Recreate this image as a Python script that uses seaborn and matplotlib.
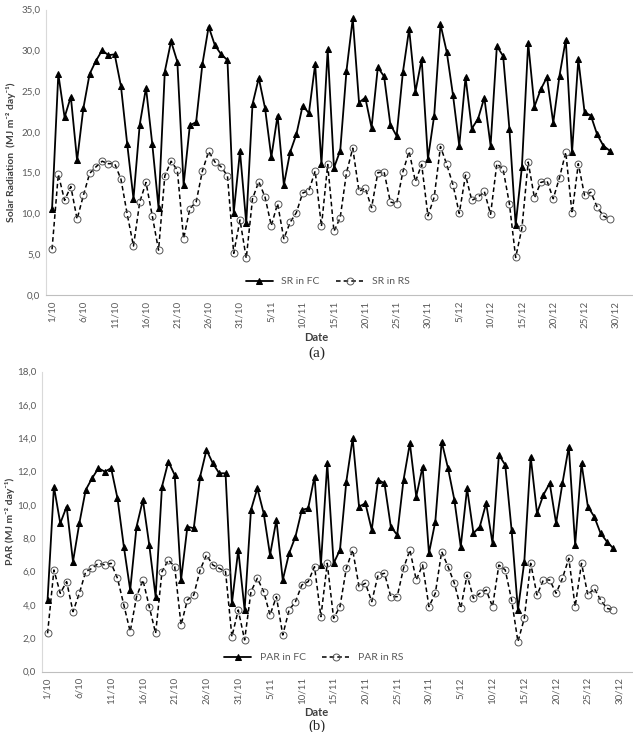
import numpy as np
import pandas as pd
import seaborn as sns
import matplotlib.pyplot as plt
from matplotlib.ticker import FuncFormatter

# daily values, 1/10 to 30/12
sr_fc = [10.5, 27.1, 21.8, 24.3, 16.5, 22.9, 27.1, 28.7, 30.0, 29.4,
         29.5, 25.6, 18.5, 11.8, 20.9, 25.4, 18.5, 10.7, 27.4, 31.1,
         28.6, 13.5, 20.8, 21.2, 28.3, 32.9, 30.6, 29.5, 28.8, 10.1,
         17.6, 8.8, 23.4, 26.6, 22.9, 16.9, 22.0, 13.5, 17.5, 19.7,
         23.2, 22.3, 28.3, 16.0, 30.1, 15.6, 17.7, 27.5, 33.9, 23.6,
         24.2, 20.5, 27.9, 26.8, 20.9, 19.5, 27.3, 32.6, 24.9, 28.9,
         16.7, 22.0, 33.2, 29.8, 24.5, 18.3, 26.7, 20.4, 21.6, 24.2,
         18.3, 30.5, 29.3, 20.4, 8.6, 15.7, 30.9, 23.1, 25.2, 26.7,
         21.1, 26.9, 31.3, 17.5, 28.9, 22.4, 22.0, 19.7, 18.3, 17.7]
sr_rs = [5.6, 14.8, 11.6, 13.3, 9.3, 12.2, 14.9, 15.7, 16.4, 16.1,
         16.1, 14.2, 9.9, 6.0, 11.4, 13.8, 9.7, 5.5, 14.6, 16.4,
         15.3, 6.9, 10.6, 11.4, 15.2, 17.6, 16.3, 15.7, 14.6, 5.1,
         9.2, 4.5, 11.8, 13.9, 12.0, 8.5, 11.2, 6.9, 8.9, 10.1,
         12.5, 12.8, 15.2, 8.4, 16.0, 7.8, 9.5, 15.0, 18.0, 12.7,
         13.1, 10.7, 15.0, 15.1, 11.4, 11.2, 15.1, 17.6, 13.9, 16.0,
         9.7, 12.0, 18.2, 16.0, 13.5, 10.0, 14.7, 11.6, 12.0, 12.7,
         9.9, 16.1, 15.4, 11.2, 4.6, 8.2, 16.3, 11.9, 13.8, 14.0,
         11.8, 14.4, 17.5, 10.0, 16.1, 12.2, 12.6, 10.8, 9.7, 9.3]
par_fc = [4.3, 11.1, 8.9, 9.9, 6.6, 8.9, 10.9, 11.6, 12.2, 12.0,
          12.2, 10.4, 7.5, 4.9, 8.7, 10.3, 7.6, 4.5, 11.1, 12.6,
          11.8, 5.5, 8.7, 8.6, 11.7, 13.3, 12.5, 11.9, 11.9, 4.1,
          7.3, 3.7, 9.7, 11.0, 9.5, 7.0, 9.1, 5.5, 7.1, 8.1,
          9.7, 9.8, 11.7, 6.4, 12.5, 6.5, 7.3, 11.4, 14.0, 9.9,
          10.1, 8.5, 11.5, 11.3, 8.7, 8.2, 11.5, 13.7, 10.5, 12.3,
          7.1, 9.0, 13.8, 12.2, 10.3, 7.5, 11.0, 8.3, 8.7, 10.1,
          7.7, 13.0, 12.4, 8.5, 3.7, 6.6, 12.9, 9.5, 10.6, 11.3,
          8.9, 11.3, 13.5, 7.6, 12.5, 9.9, 9.3, 8.3, 7.8, 7.4]
par_rs = [2.3, 6.1, 4.7, 5.4, 3.6, 4.7, 6.0, 6.2, 6.5, 6.4,
          6.5, 5.6, 4.0, 2.4, 4.5, 5.5, 3.9, 2.3, 6.0, 6.7,
          6.3, 2.8, 4.3, 4.6, 6.1, 7.0, 6.4, 6.2, 6.0, 2.1,
          3.7, 1.9, 4.8, 5.6, 4.8, 3.4, 4.5, 2.2, 3.7, 4.2,
          5.2, 5.4, 6.3, 3.3, 6.5, 3.2, 3.9, 6.2, 7.3, 5.1,
          5.3, 4.2, 5.8, 5.9, 4.5, 4.5, 6.2, 7.3, 5.5, 6.4,
          3.9, 4.7, 7.2, 6.3, 5.3, 3.8, 5.8, 4.4, 4.7, 4.9,
          3.9, 6.4, 6.1, 4.3, 1.8, 3.2, 6.5, 4.6, 5.5, 5.5,
          4.7, 5.6, 6.8, 3.9, 6.5, 4.6, 5.0, 4.3, 3.8, 3.7]
date_labels = ['1/10', '6/10', '11/10', '16/10', '21/10', '26/10', '31/10',
               '5/11', '10/11', '15/11', '20/11', '25/11', '30/11',
               '5/12', '10/12', '15/12', '20/12', '25/12', '30/12']

sns.set_style('white')
plt.rcParams['font.family'] = ['Lato', 'DejaVu Sans']

GREY = '#595959'


# draws one panel: solid triangles for FC, dashed open circles for RS
def draw_panel(ax, fc, rs, names, ymax, ystep, ylabel, xlim, leg_x, label_x):
    df = pd.DataFrame({'day': np.arange(len(fc)), 'fc': fc, 'rs': rs})
    sns.lineplot(data=df, x='day', y='fc', ax=ax, color='black', lw=1.3,
                 marker='^', markersize=5, markeredgecolor='black', label=names[0])
    sns.lineplot(data=df, x='day', y='rs', ax=ax, color='black', lw=1.1,
                 linestyle=(0, (3, 2)), marker='o', markersize=5,
                 markerfacecolor='none', markeredgecolor='#555555',
                 markeredgewidth=0.7, label=names[1])
    ax.set_xlim(*xlim)
    ax.set_ylim(0, ymax)
    ax.set_yticks(np.arange(0, ymax + 0.01, ystep))
    ax.yaxis.set_major_formatter(FuncFormatter(lambda v, p: f'{v:.1f}'.replace('.', ',')))
    ax.set_xticks(np.arange(0, 5 * len(date_labels), 5))
    ax.set_xticklabels(date_labels, rotation=90)
    ax.tick_params(length=0, labelsize=7, colors=GREY, pad=4)
    ax.set_xlabel('')
    ax.set_ylabel(ylabel, fontsize=7.5, fontweight='bold', color='#404040')
    ax.yaxis.set_label_coords(label_x, 0.5)
    for s in ['top', 'right']:
        ax.spines[s].set_visible(False)
    ax.spines['left'].set_color('#d9d9d9')
    ax.spines['bottom'].set_color('#bfbfbf')
    ax.legend(loc='center', bbox_to_anchor=(leg_x, 0.047), ncol=2, frameon=False,
              fontsize=7.5, handlelength=2.6, columnspacing=1.6, labelcolor=GREY)


fig = plt.figure(figsize=(6.33, 7.32), dpi=100)
ax1 = fig.add_axes([0.0727, 0.597, 0.927, 0.390])
ax2 = fig.add_axes([0.066, 0.0824, 0.934, 0.410])

draw_panel(ax1, sr_fc, sr_rs, ['SR in FC', 'SR in RS'], 35, 5,
           'Solar Radiation  (MJ m⁻² day⁻¹)', (-0.96, 92.7), 0.48, -0.052)
draw_panel(ax2, par_fc, par_rs, ['PAR in FC', 'PAR in RS'], 18, 2,
           'PAR (MJ m⁻² day⁻¹)', (-0.91, 92.1), 0.46, -0.045)

fig.text(0.5, 1 - 338 / 732, 'Date', ha='center', va='center', fontsize=8,
         fontweight='bold', color='#404040')
fig.text(0.5, 1 - 353 / 732, '(a)', ha='center', va='center', fontsize=11,
         family='Liberation Serif')
fig.text(0.5, 1 - 713 / 732, 'Date', ha='center', va='center', fontsize=8,
         fontweight='bold', color='#404040')
fig.text(0.5, 1 - 720 / 732, '(b)', ha='center', va='top', fontsize=10.5,
         family='Liberation Serif')

fig.savefig('out.png', dpi=100)
